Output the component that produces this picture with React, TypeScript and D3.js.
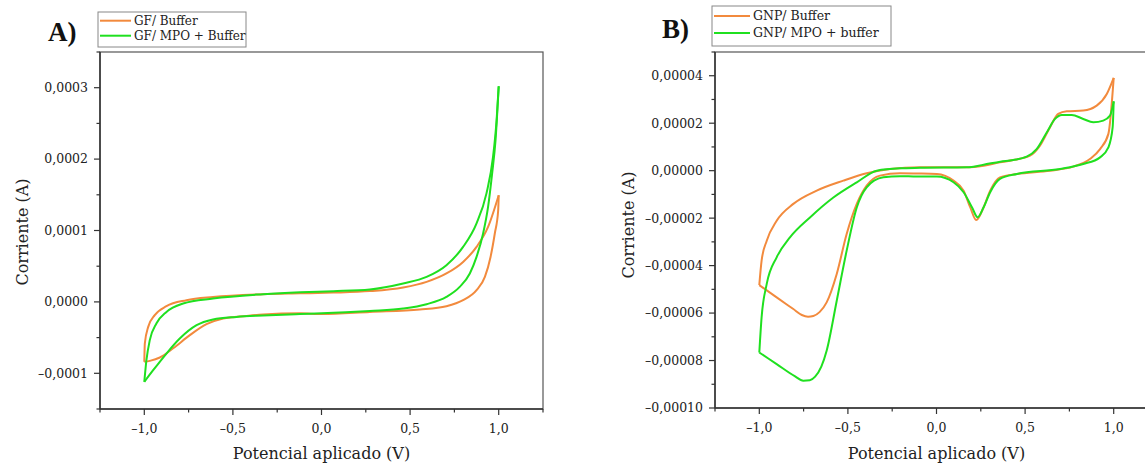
import React from "react";
import * as d3 from "d3";

// Potential (V) vs current (µA). Each loop split into two branches.
const xTicks = [-1, -0.5, 0, 0.5, 1];
const xMinor = [-1.25, -0.75, -0.25, 0.25, 0.75, 1.25];

// Panel A
const aYTicks = [-100, 0, 100, 200, 300];
const aYMinor = [-150, -50, 50, 150, 250, 350];
const aSeriesNames = ["GF/ Buffer", "GF/ MPO + Buffer"];

const aOrangeUpper: [number, number][] = [
  [1.0, 149.4], [0.94, 105], [0.875, 77], [0.799, 56], [0.705, 39.8], [0.593, 28], [0.461, 20.2],
  [0.273, 15.1], [0.067, 13], [-0.121, 12], [-0.33, 10.8], [-0.612, 7], [-0.762, 2.4], [-0.875, -6],
  [-0.941, -18.6], [-0.978, -35], [-0.997, -58], [-1.0, -84],
];
const aOrangeLower: [number, number][] = [
  [-1.0, -84], [-0.969, -82.6], [-0.912, -77.9], [-0.837, -65], [-0.743, -46.6], [-0.649, -31.2],
  [-0.555, -23.2], [-0.423, -19.6], [-0.33, -17.6], [-0.121, -16], [0.001, -17], [0.273, -14],
  [0.555, -10.7], [0.705, -6], [0.799, 2.4], [0.875, 16.4], [0.922, 35], [0.954, 63], [0.978, 95.8],
  [0.997, 128], [1.0, 149.4],
];
const aGreenUpper: [number, number][] = [
  [1.0, 302], [0.988, 254], [0.968, 203], [0.931, 152], [0.875, 110], [0.799, 77], [0.705, 51.4],
  [0.593, 35], [0.461, 25.8], [0.273, 17.4], [0.067, 15], [-0.121, 13.5], [-0.33, 10.8], [-0.612, 4.8],
  [-0.781, -2.2], [-0.875, -14], [-0.931, -30], [-0.969, -53.6], [-0.988, -81.6], [-1.0, -112],
];
const aGreenLower: [number, number][] = [
  [-1.0, -112], [-0.95, -95.7], [-0.875, -72.3], [-0.8, -51.3], [-0.705, -32.6], [-0.612, -24.6],
  [-0.48, -21], [-0.33, -19], [-0.121, -17], [0.001, -16], [0.273, -12.6], [0.461, -9.3], [0.593, -3.2],
  [0.705, 7], [0.78, 21], [0.837, 39.8], [0.875, 63], [0.912, 95.8], [0.94, 133], [0.963, 180],
  [0.982, 226], [1.0, 302],
];

// Panel B
const bYTicks = [-100, -80, -60, -40, -20, 0, 20, 40];
const bYMinor = [-90, -70, -50, -30, -10, 10, 30, 50];
const bSeriesNames = ["GNP/ Buffer", "GNP/ MPO + buffer"];

const bOrangeLower: [number, number][] = [
  [-1.0, -48.2], [-0.902, -53.4], [-0.808, -58.3], [-0.76, -60.8], [-0.725, -61.5], [-0.695, -61.2],
  [-0.66, -59.6], [-0.62, -55.5], [-0.563, -43.5], [-0.507, -26.7], [-0.45, -14.0], [-0.394, -6.3],
  [-0.319, -2.1], [-0.206, -1.1], [-0.111, -1.2], [0.002, -1.4], [0.096, -4.2], [0.153, -8.4],
  [0.19, -15.4], [0.224, -20.8], [0.266, -15.4], [0.303, -8.4], [0.358, -2.8], [0.454, -1.4], [0.64, 0],
  [0.772, 1.7], [0.866, 4.9], [0.923, 9.1], [0.97, 15.5], [1.0, 39.1],
];
const bOrangeUpper: [number, number][] = [
  [1.0, 39.1], [0.961, 32.3], [0.904, 27.4], [0.828, 25.3], [0.735, 25.0], [0.687, 23.9], [0.64, 18.2],
  [0.584, 10.5], [0.528, 6.3], [0.433, 4.5], [0.358, 3.5], [0.266, 2.1], [0.171, 1.4], [-0.093, 1.4],
  [-0.262, 0.7], [-0.394, -1.1], [-0.526, -4.2], [-0.676, -8.4], [-0.808, -14.0], [-0.902, -21.1],
  [-0.958, -29.5], [-0.987, -37.9], [-1.0, -48.2],
];
const bGreenLower: [number, number][] = [
  [-1.0, -76.6], [-0.902, -81.5], [-0.8, -86.6], [-0.752, -88.5], [-0.715, -88.3], [-0.685, -86.8],
  [-0.65, -82.6], [-0.62, -75.9], [-0.563, -54.8], [-0.507, -33.7], [-0.45, -15.5], [-0.394, -7.0],
  [-0.3, -2.8], [-0.206, -2.3], [-0.111, -2.5], [0.002, -2.5], [0.096, -4.9], [0.153, -9.1], [0.2, -15.4],
  [0.232, -19.6], [0.266, -15.4], [0.303, -9.1], [0.358, -3.5], [0.454, -1.4], [0.697, 0.7], [0.828, 2.8],
  [0.923, 5.6], [0.97, 9.8], [0.994, 18.2], [1.0, 29.2],
];
const bGreenUpper: [number, number][] = [
  [1.0, 29.2], [0.979, 23.2], [0.941, 21.1], [0.885, 20.4], [0.828, 21.8], [0.763, 23.5], [0.707, 23.5],
  [0.669, 21.8], [0.622, 16.1], [0.565, 9.1], [0.509, 5.9], [0.433, 4.5], [0.36, 3.8], [0.266, 2.5],
  [0.171, 1.4], [-0.093, 1.2], [-0.206, 1.0], [-0.337, 0], [-0.45, -4.9], [-0.582, -11.3],
  [-0.714, -19.7], [-0.827, -28.1], [-0.902, -36.5], [-0.958, -47.7], [-0.987, -61.8], [-1.0, -76.6],
];

const ORANGE = "#f28a3d";
const GREEN = "#1fe01f";
const AXIS = "#333";
const SERIF = "'DejaVu Serif', serif";

type PanelProps = {
  left: number; right: number; top: number; bottom: number;
  yDomain: [number, number]; yTicks: number[]; yMinor: number[]; decimals: number;
  orange: [number, number][][]; green: [number, number][][];
  tickLabelRight: number; yTitleX: number; yTitleY: number;
};

function fmt(vMicro: number, decimals: number) {
  const v = vMicro * 1e-6;
  const s = Math.abs(v).toFixed(decimals).replace(".", ",");
  return v < -1e-12 ? "\u2013" + s : s;
}

function Panel(p: PanelProps) {
  const x = d3.scaleLinear().domain([-1.25, 1.25]).range([p.left, p.right]);
  const y = d3.scaleLinear().domain(p.yDomain).range([p.bottom, p.top]);
  const line = d3.line<[number, number]>().x(d => x(d[0])).y(d => y(d[1])).curve(d3.curveMonotoneX);
  const sorted = (d: [number, number][]) => [...d].sort((a, b) => a[0] - b[0]);
  const cx = (p.left + p.right) / 2;
  return (
    <g>
      <rect x={p.left} y={p.top} width={p.right - p.left} height={p.bottom - p.top} fill="none" stroke="#555" strokeWidth={1.2} />
      {p.orange.map((d, i) => <path key={"o" + i} d={line(sorted(d)) || ""} fill="none" stroke={ORANGE} strokeWidth={2} strokeLinejoin="round" />)}
      {p.green.map((d, i) => <path key={"g" + i} d={line(sorted(d)) || ""} fill="none" stroke={GREEN} strokeWidth={2} strokeLinejoin="round" />)}
      <line x1={p.left} x2={p.left} y1={p.top} y2={p.bottom} stroke={AXIS} strokeWidth={1.5} />
      <line x1={p.left} x2={p.right} y1={p.bottom} y2={p.bottom} stroke={AXIS} strokeWidth={1.5} />
      {xTicks.map(t => (
        <g key={"xt" + t}>
          <line x1={x(t)} x2={x(t)} y1={p.bottom} y2={p.bottom + 6} stroke={AXIS} strokeWidth={1.2} />
          <text x={x(t)} y={p.bottom + 24} textAnchor="middle" fontFamily={SERIF} fontSize={12.5} fill="#222">
            {(t < 0 ? "\u2013" : "") + Math.abs(t).toFixed(1).replace(".", ",")}
          </text>
        </g>
      ))}
      {xMinor.map(t => <line key={"xm" + t} x1={x(t)} x2={x(t)} y1={p.bottom} y2={p.bottom + 3.5} stroke={AXIS} strokeWidth={1.2} />)}
      {p.yTicks.map(t => (
        <g key={"yt" + t}>
          <line x1={p.left - 6} x2={p.left} y1={y(t)} y2={y(t)} stroke={AXIS} strokeWidth={1.2} />
          <text x={p.tickLabelRight} y={y(t)} dy="0.35em" textAnchor="end" fontFamily={SERIF} fontSize={12.5} fill="#222">
            {fmt(t, p.decimals)}
          </text>
        </g>
      ))}
      {p.yMinor.map(t => <line key={"ym" + t} x1={p.left - 3.5} x2={p.left} y1={y(t)} y2={y(t)} stroke={AXIS} strokeWidth={1.2} />)}
      <text x={cx} y={459} textAnchor="middle" fontFamily={SERIF} fontSize={16} fill="#222">Potencial aplicado (V)</text>
      <text transform={`translate(${p.yTitleX},${p.yTitleY}) rotate(-90)`} textAnchor="middle" fontFamily={SERIF} fontSize={16} fill="#222">Corriente (A)</text>
    </g>
  );
}

function Legend({ x, y, w, h, names, fontSize, lineLen, rowY }: { x: number; y: number; w: number; h: number; names: string[]; fontSize: number; lineLen: number; rowY: number[] }) {
  const colors = [ORANGE, GREEN];
  return (
    <g>
      <rect x={x} y={y} width={w} height={h} fill="#fff" stroke="#888" strokeWidth={1} />
      {names.map((n, i) => (
        <g key={n}>
          <line x1={x + 2} x2={x + 2 + lineLen} y1={rowY[i]} y2={rowY[i]} stroke={colors[i]} strokeWidth={2} />
          <text x={x + 5 + lineLen} y={rowY[i]} dy="0.35em" fontFamily={SERIF} fontSize={fontSize} fill="#222">{n}</text>
        </g>
      ))}
    </g>
  );
}

export default function App() {
  return (
    <svg width={1145} height={465} style={{ position: "absolute", left: 0, top: 0, background: "#fff" }}>
      <rect x={0} y={0} width={1145} height={465} fill="#fff" />
      <Panel left={100} right={543} top={52} bottom={409} yDomain={[-150, 350]} yTicks={aYTicks} yMinor={aYMinor}
        decimals={4} orange={[aOrangeUpper, aOrangeLower]} green={[aGreenUpper, aGreenLower]}
        tickLabelRight={88} yTitleX={28} yTitleY={232} />
      <Panel left={715} right={1158} top={52} bottom={408} yDomain={[-100, 50]} yTicks={bYTicks} yMinor={bYMinor}
        decimals={5} orange={[bOrangeLower, bOrangeUpper]} green={[bGreenLower, bGreenUpper]}
        tickLabelRight={703} yTitleX={634} yTitleY={225} />
      <text x={48} y={41} fontFamily="'Liberation Serif', serif" fontWeight="bold" fontSize={27} fill="#111">A)</text>
      <text x={662} y={38} fontFamily="'Liberation Serif', serif" fontWeight="bold" fontSize={27} fill="#111">B)</text>
      <Legend x={98} y={12} w={148} h={35} names={aSeriesNames} fontSize={12} lineLen={31} rowY={[20.7, 35.7]} />
      <Legend x={712} y={6} w={179} h={40} names={bSeriesNames} fontSize={12.5} lineLen={36} rowY={[16, 33]} />
    </svg>
  );
}
